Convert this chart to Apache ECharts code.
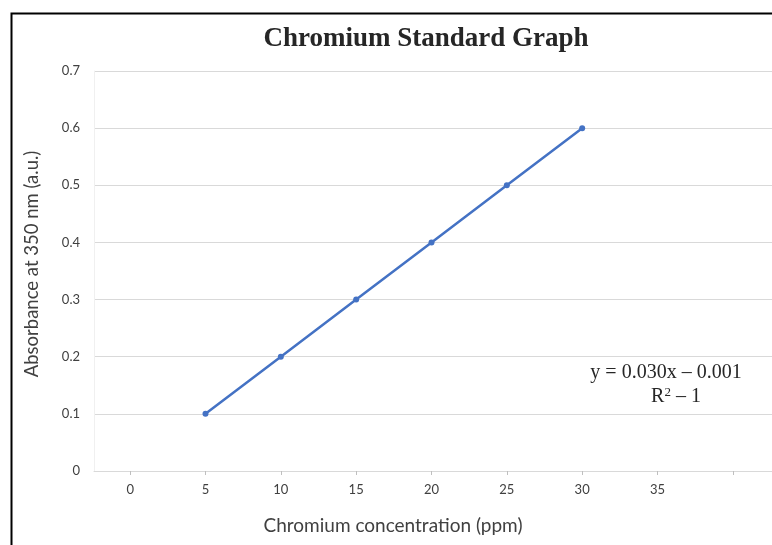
<!DOCTYPE html>
<html>
<head>
<meta charset="utf-8">
<script src="https://cdn.jsdelivr.net/npm/echarts@6/dist/echarts.min.js"></script>
<style>
  html, body { margin: 0; padding: 0; background: #ffffff; }
  #chart { width: 772px; height: 545px; }
</style>
</head>
<body>
<div id="chart"></div>
<script>
// Calibration standards: concentration (ppm) vs absorbance at 350 nm
const concentrations = [5, 10, 15, 20, 25, 30];
const absorbance = [0.1, 0.2, 0.3, 0.4, 0.5, 0.6];
const xTickValues = [0, 5, 10, 15, 20, 25, 30, 35, 40];
const xLabelValues = [0, 5, 10, 15, 20, 25, 30, 35];
const titleText = 'Chromium Standard Graph';
const xName = 'Chromium concentration (ppm)';
const yName = 'Absorbance at 350 nm (a.u.)';
const fitLine1 = 'y = 0.030x \u2013 0.001';
const fitLine2 = 'R{sup|2} \u2013 1';

const points = concentrations.map((c, i) => [c, absorbance[i]]);

const chart = echarts.init(document.getElementById('chart'), null, { renderer: 'canvas' });

chart.setOption({
  animation: false,
  backgroundColor: '#ffffff',
  title: {
    text: titleText,
    left: 421,
    top: 21,
    textAlign: 'center',
    textStyle: {
      fontFamily: 'Liberation Serif',
      fontWeight: 'bold',
      fontSize: 27,
      color: '#262626'
    }
  },
  grid: { left: 94, right: 0, top: 71, bottom: 74, containLabel: false },
  xAxis: {
    type: 'value',
    min: -2.4,
    max: 42.6,
    axisLine: { show: true, onZero: false, lineStyle: { color: '#d9d9d9', width: 1 } },
    axisTick: {
      show: true,
      customValues: xTickValues,
      length: 4,
      lineStyle: { color: '#bfbfbf' }
    },
    axisLabel: {
      customValues: xLabelValues,
      margin: 12,
      fontFamily: 'Lato',
      fontSize: 13,
      color: '#404040'
    },
    splitLine: { show: false }
  },
  yAxis: {
    type: 'value',
    min: 0,
    max: 0.7,
    interval: 0.1,
    axisLine: { show: true, onZero: false, lineStyle: { color: '#f0f0f0' } },
    axisTick: { show: false },
    axisLabel: {
      margin: 14,
      fontFamily: 'Lato',
      fontSize: 13,
      color: '#404040',
      formatter: v => (v === 0 ? '0' : v.toFixed(1))
    },
    splitLine: { show: true, lineStyle: { color: '#d9d9d9', width: 1 } }
  },
  series: [{
    type: 'line',
    data: points,
    symbol: 'circle',
    symbolSize: 6,
    itemStyle: { color: '#4472c4' },
    lineStyle: { color: '#4472c4', width: 2.5 }
  }],
  graphic: [
    {
      type: 'rect',
      left: 9,
      top: 11,
      shape: { x: 0, y: 0, width: 800, height: 600 },
      style: { fill: null, stroke: '#000000', lineWidth: 2 },
      silent: true
    },
    {
      // horizontal axis title
      type: 'text',
      x: 393,
      y: 526,
      style: {
        text: xName,
        fontFamily: 'Lato',
        fontSize: 19,
        fill: '#404040',
        align: 'center',
        verticalAlign: 'middle'
      }
    },
    {
      // vertical axis title
      type: 'text',
      x: 32,
      y: 264,
      rotation: Math.PI / 2,
      style: {
        text: yName,
        fontFamily: 'Lato',
        fontSize: 18.5,
        fill: '#404040',
        align: 'center',
        verticalAlign: 'middle'
      }
    },
    {
      type: 'text',
      x: 666,
      y: 373,
      style: {
        text: fitLine1,
        fontFamily: 'Liberation Serif',
        fontSize: 20,
        fill: '#262626',
        align: 'center',
        verticalAlign: 'middle'
      }
    },
    {
      type: 'text',
      x: 676,
      y: 397,
      style: {
        text: fitLine2,
        fontFamily: 'Liberation Serif',
        fontSize: 20,
        fill: '#262626',
        align: 'center',
        verticalAlign: 'middle',
        rich: {
          sup: { fontFamily: 'Liberation Serif', fontSize: 13, verticalAlign: 'top', padding: [0, 0, 8, 0], fill: '#262626' }
        }
      }
    }
  ]
});
</script>
</body>
</html>
